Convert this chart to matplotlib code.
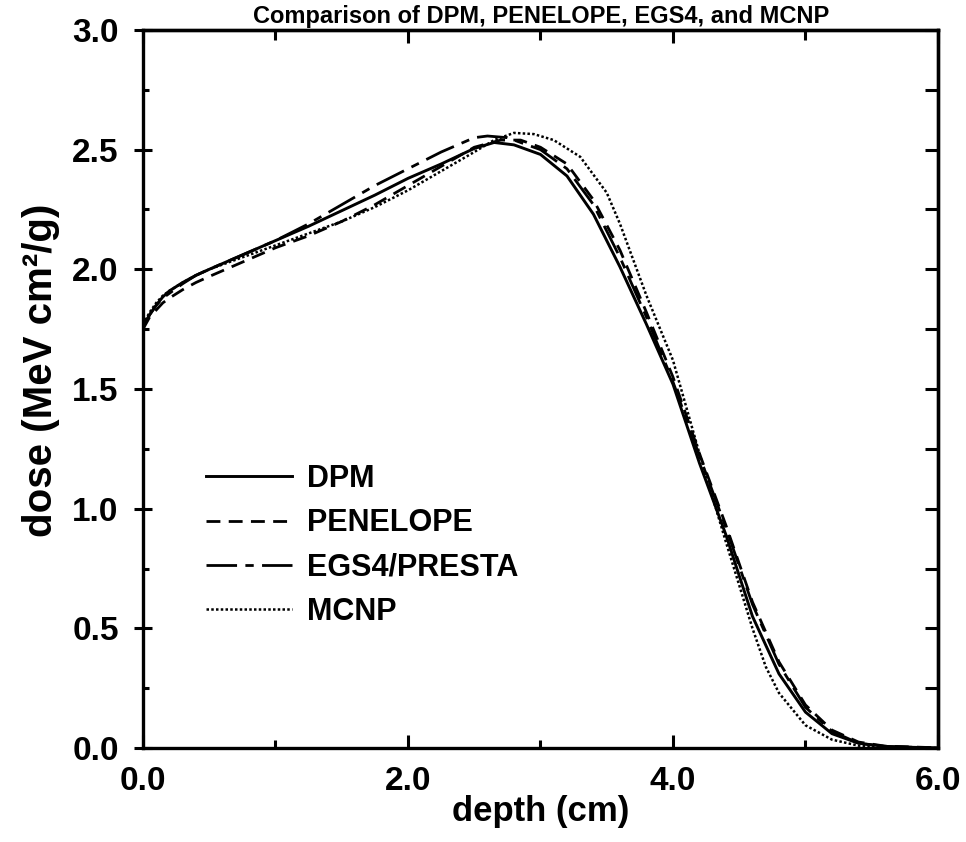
import numpy as np
import matplotlib.pyplot as plt
from matplotlib.ticker import MultipleLocator

plt.rcParams['font.family'] = ['Liberation Sans', 'DejaVu Sans']
plt.rcParams['font.weight'] = 'bold'

# depth-dose curves (depth in cm, dose in MeV cm^2/g)
depth_dpm = [0.0, 0.05, 0.1, 0.15, 0.2, 0.3, 0.4, 0.5, 0.75, 1.0, 1.25, 1.5, 1.75, 2.0, 2.25, 2.5, 2.65,
             2.8, 3.0, 3.2, 3.4, 3.6, 3.8, 4.0, 4.2, 4.4, 4.6, 4.8, 5.0, 5.2, 5.4, 5.6, 5.8, 6.0]
dose_dpm = [1.76, 1.81, 1.85, 1.885, 1.91, 1.945, 1.975, 2.00, 2.06, 2.12, 2.18, 2.245, 2.31, 2.38, 2.44, 2.505, 2.53,
            2.52, 2.48, 2.39, 2.23, 2.01, 1.77, 1.52, 1.19, 0.89, 0.55, 0.31, 0.15, 0.06, 0.02, 0.007, 0.003, 0.001]

depth_pen = [0.0, 0.05, 0.1, 0.15, 0.2, 0.3, 0.4, 0.5, 0.75, 1.0, 1.25, 1.5, 1.75, 2.0, 2.25, 2.5, 2.7,
             2.85, 3.0, 3.2, 3.4, 3.6, 3.8, 4.0, 4.2, 4.4, 4.6, 4.8, 5.0, 5.2, 5.4, 5.6, 6.0]
dose_pen = [1.75, 1.80, 1.83, 1.86, 1.88, 1.915, 1.945, 1.97, 2.03, 2.09, 2.14, 2.20, 2.27, 2.35, 2.43, 2.51, 2.54,
            2.54, 2.51, 2.44, 2.29, 2.08, 1.82, 1.55, 1.23, 0.93, 0.61, 0.36, 0.18, 0.075, 0.025, 0.008, 0.001]

depth_egs = [0.0, 0.05, 0.1, 0.15, 0.2, 0.3, 0.4, 0.5, 0.75, 1.0, 1.25, 1.5, 1.75, 2.0, 2.25, 2.5, 2.6,
             2.75, 3.0, 3.2, 3.4, 3.6, 3.8, 4.0, 4.2, 4.4, 4.6, 4.8, 5.0, 5.2, 5.4, 5.6, 6.0]
dose_egs = [1.76, 1.81, 1.85, 1.88, 1.90, 1.94, 1.975, 2.00, 2.06, 2.12, 2.19, 2.27, 2.35, 2.42, 2.49, 2.55, 2.557,
            2.55, 2.50, 2.42, 2.27, 2.05, 1.80, 1.53, 1.22, 0.92, 0.60, 0.35, 0.17, 0.07, 0.02, 0.006, 0.001]

depth_mcnp = [0.0, 0.05, 0.1, 0.15, 0.2, 0.3, 0.4, 0.5, 0.75, 1.0, 1.25, 1.5, 1.75, 2.0, 2.25, 2.5, 2.65,
              2.8, 2.95, 3.1, 3.3, 3.5, 3.6, 3.8, 4.0, 4.2, 4.4, 4.6, 4.7, 4.8, 5.0, 5.2, 5.4, 5.6, 6.0]
dose_mcnp = [1.77, 1.82, 1.86, 1.89, 1.91, 1.945, 1.975, 2.00, 2.05, 2.10, 2.15, 2.20, 2.26, 2.33, 2.41, 2.49, 2.54,
             2.57, 2.565, 2.54, 2.47, 2.32, 2.19, 1.89, 1.62, 1.23, 0.86, 0.50, 0.34, 0.23, 0.095, 0.035, 0.01, 0.003, 0.0]

fig = plt.figure(figsize=(9.66, 8.42), dpi=100)
ax = fig.add_axes([0.148, 0.1116, 0.823, 0.8528])

ax.plot(depth_dpm, dose_dpm, color='black', lw=2.1, label='DPM')
ax.plot(depth_pen, dose_pen, color='black', lw=2.0, dashes=(5, 3), label='PENELOPE')
ax.plot(depth_egs, dose_egs, color='black', lw=2.0, dashes=(11, 3, 3, 3), label='EGS4/PRESTA')
ax.plot(depth_mcnp, dose_mcnp, color='black', lw=1.8, dashes=(1, 0.9), label='MCNP')

ax.set_xlim(0, 6)
ax.set_ylim(0, 3)
ax.xaxis.set_major_locator(MultipleLocator(2))
ax.xaxis.set_minor_locator(MultipleLocator(1))
ax.yaxis.set_major_locator(MultipleLocator(0.5))
ax.yaxis.set_minor_locator(MultipleLocator(0.25))
ax.xaxis.set_major_formatter(lambda v, p: f'{v:.1f}')
ax.yaxis.set_major_formatter(lambda v, p: f'{v:.1f}')
ax.tick_params(axis='y', which='major', direction='inout', length=13, width=2.2, labelsize=24, pad=11)
ax.tick_params(axis='y', which='minor', direction='in', length=4, width=2.2)
ax.tick_params(axis='x', which='major', direction='in', length=9.5, width=2.2, labelsize=24, pad=13)
ax.tick_params(axis='x', which='minor', direction='in', length=5.5, width=2.2)
for s in ax.spines.values():
    s.set_linewidth(2.4)

# ticks on the right and top side, all pointing inwards
right = ax.secondary_yaxis('right')
right.yaxis.set_major_locator(MultipleLocator(0.5))
right.yaxis.set_minor_locator(MultipleLocator(0.25))
right.tick_params(which='both', direction='in', length=9.5, width=2.2, labelright=False)
top = ax.secondary_xaxis('top')
top.xaxis.set_major_locator(MultipleLocator(2))
top.xaxis.set_minor_locator(MultipleLocator(1))
top.tick_params(which='major', direction='in', length=9.5, width=2.2, labeltop=False)
top.tick_params(which='minor', direction='in', length=7, width=2.2)
for sec in (right, top):
    for s in sec.spines.values():
        s.set_linewidth(2.4)

ax.set_xlabel('depth (cm)', fontsize=25, fontweight='bold')
ax.xaxis.set_label_coords(0.5, -0.065)
ax.set_ylabel('dose (MeV cm²/g)', fontsize=29, fontweight='bold')
ax.yaxis.set_label_coords(-0.104, 0.526)

ax.legend(loc='upper left', bbox_to_anchor=(0.06, 0.417), frameon=False, fontsize=22,
          handlelength=2.8, handletextpad=0.5, labelspacing=0.47, borderpad=0)

fig.text(0.56, 1 - 23 / 842, 'Comparison of DPM, PENELOPE, EGS4, and MCNP', ha='center',
         va='baseline', fontsize=17, fontweight='bold')

fig.savefig('out.png', dpi=100)
